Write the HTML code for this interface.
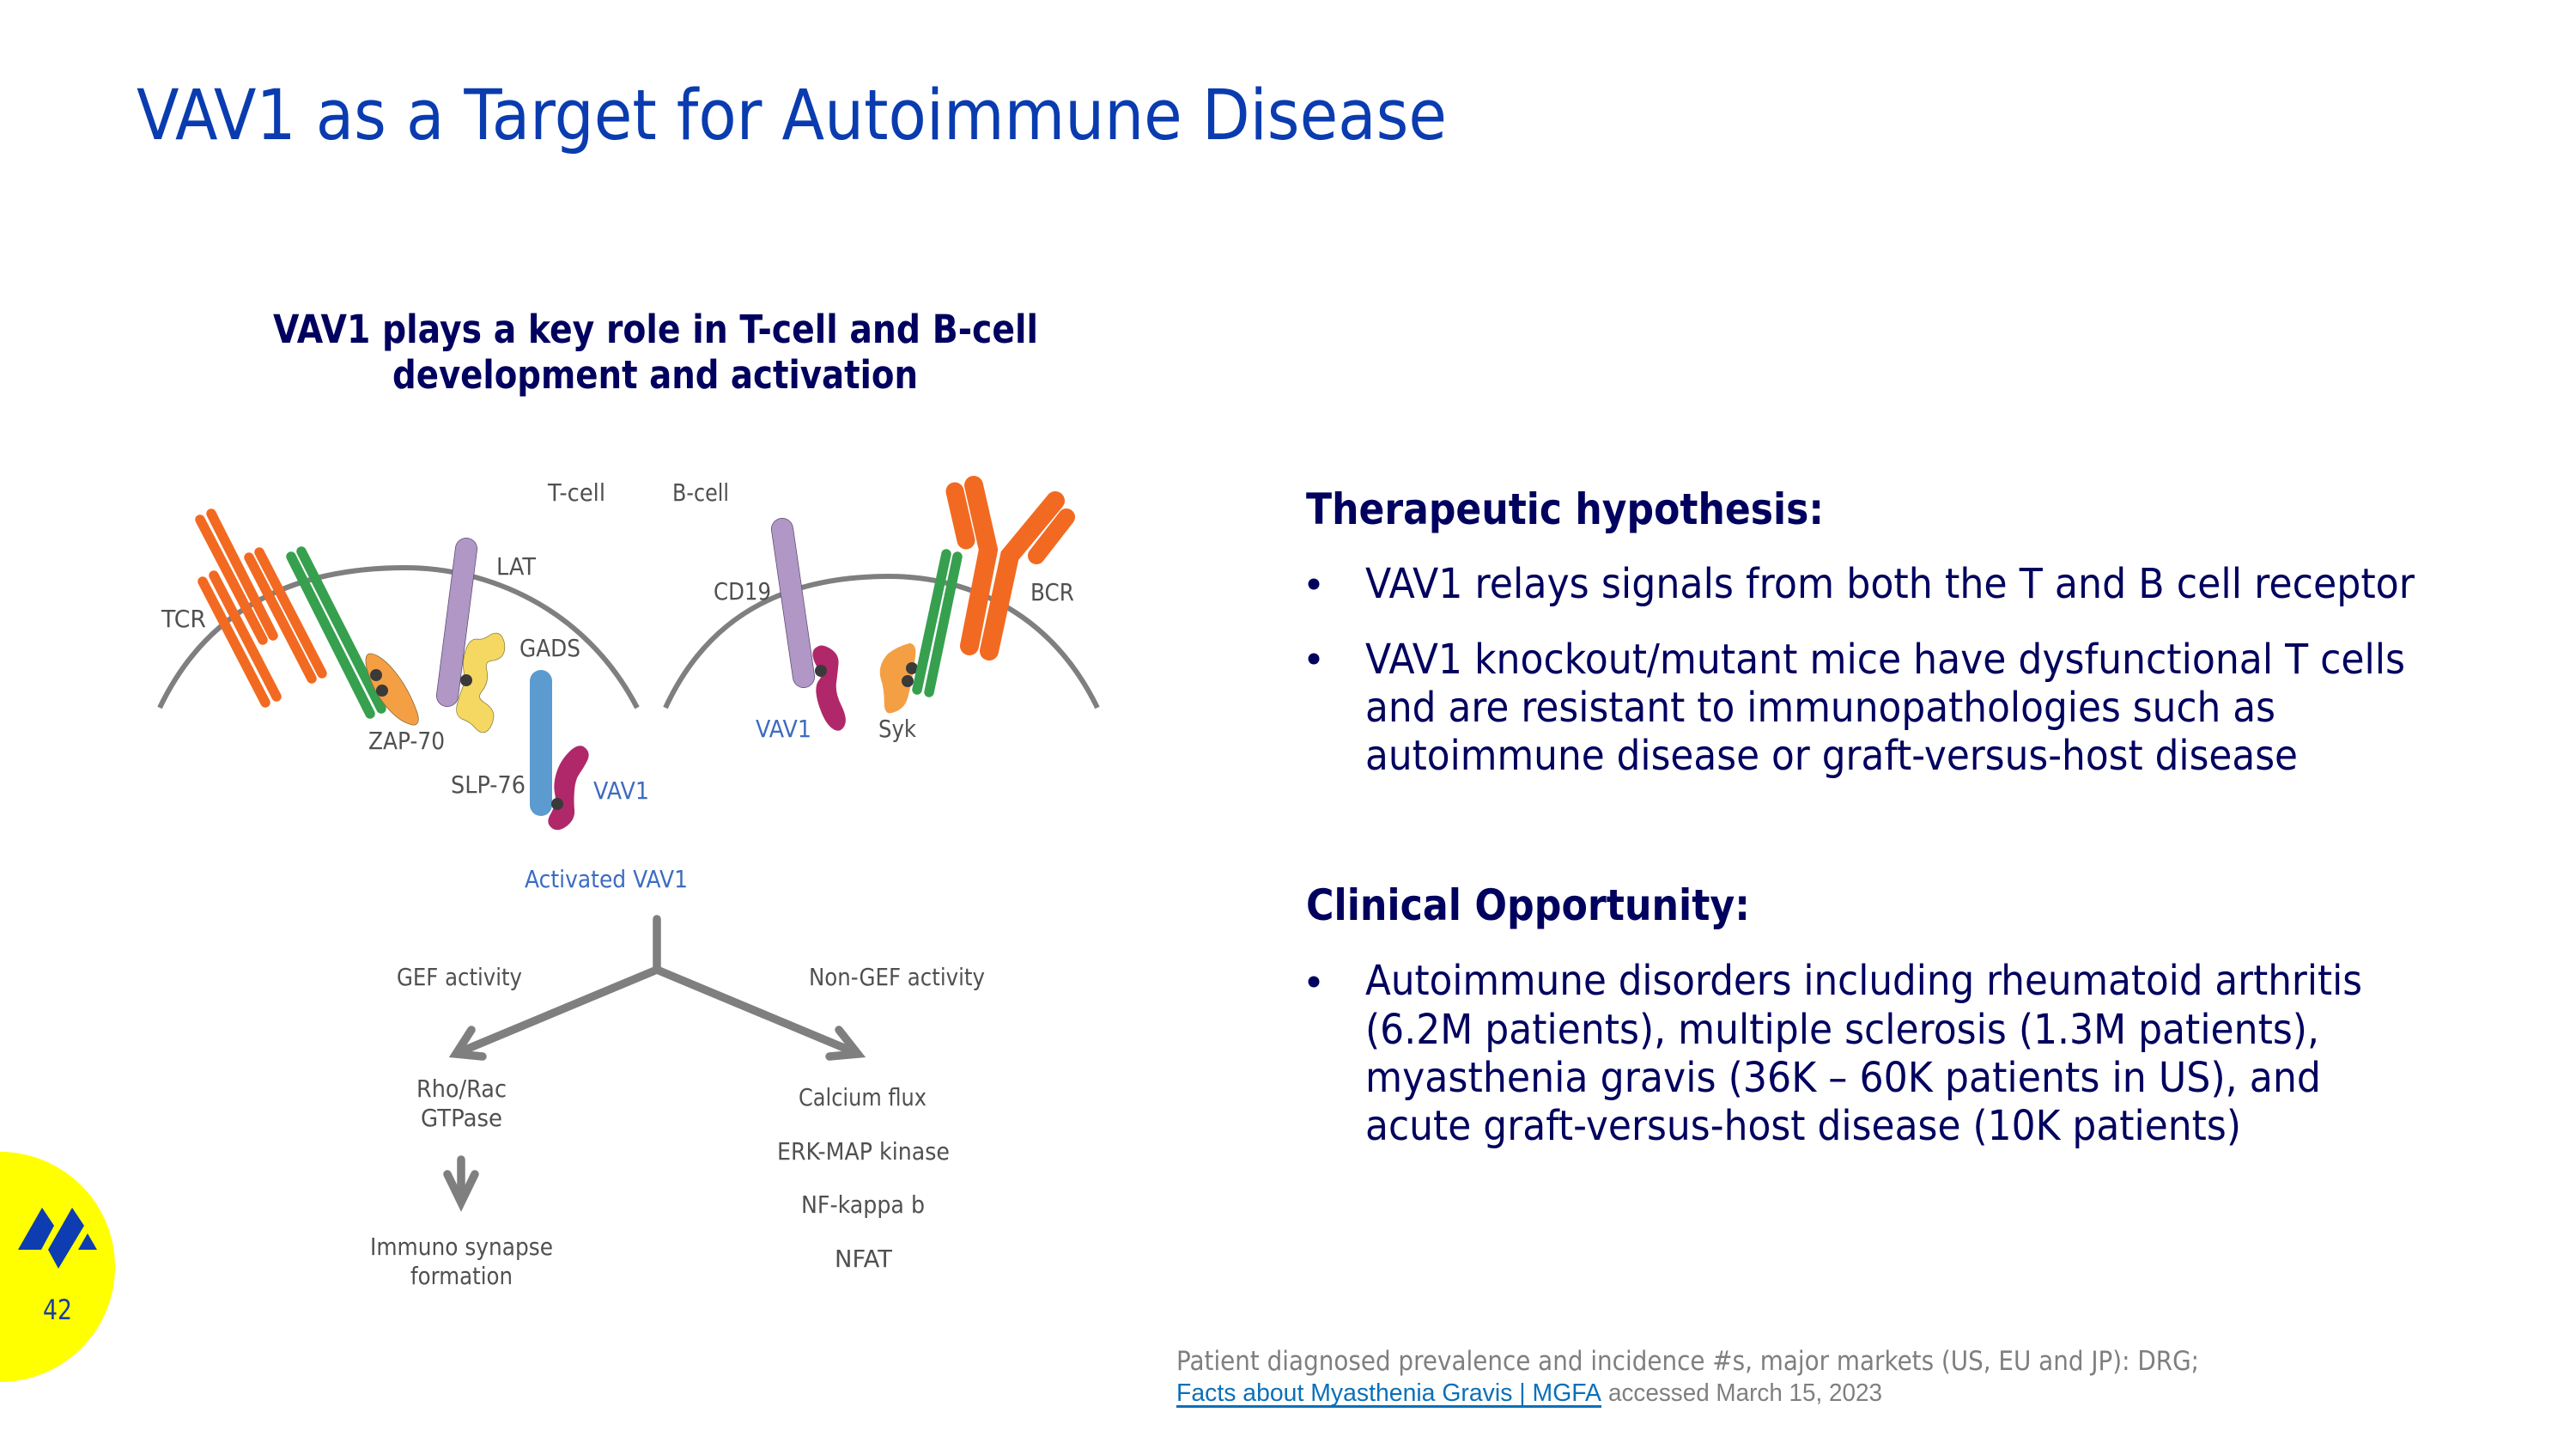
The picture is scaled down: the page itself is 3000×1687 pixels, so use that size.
<!DOCTYPE html>
<html><head><meta charset="utf-8"><style>
html,body{margin:0;padding:0;background:#fff;width:3000px;height:1687px;overflow:hidden}
svg{display:block}
text{font-family:"DejaVu Sans","Liberation Sans",sans-serif}
.l{font-size:28px;fill:#505050}
.b{font-size:28px;fill:#3d6cc0}
.h{font-size:48px;fill:#00005f}
.hb{font-size:50px;font-weight:bold;fill:#00005f}
.sh{font-size:45px;font-weight:bold;fill:#00005f}
.f{font-size:31px;fill:#7f7f7f}
.bar{fill:none;stroke-linecap:round}
</style></head><body>
<svg xmlns="http://www.w3.org/2000/svg" width="3000" height="1687" viewBox="0 0 3000 1687">
<rect width="3000" height="1687" fill="#fff"/>
<text x="159" y="162" font-size="81" fill="#0a3cb0" textLength="1526" lengthAdjust="spacingAndGlyphs">VAV1 as a Target for Autoimmune Disease</text>
<text class="sh" x="318" y="399" textLength="891" lengthAdjust="spacingAndGlyphs">VAV1 plays a key role in T-cell and B-cell</text>
<text class="sh" x="457" y="452" textLength="612" lengthAdjust="spacingAndGlyphs">development and activation</text>

<!-- T cell -->
<path d="M186 824C250 690 370 661 472 661C565 661 680 705 742 824" fill="none" stroke="#7f7f7f" stroke-width="6"/>
<g class="bar" stroke="#f26a21" stroke-width="11.5">
<line x1="233" y1="605" x2="306" y2="745"/><line x1="246" y1="598" x2="318" y2="740"/>
<line x1="236" y1="677" x2="309" y2="818"/><line x1="249" y1="670" x2="322" y2="811"/>
<line x1="290" y1="649" x2="363" y2="790"/><line x1="302" y1="643" x2="375" y2="784"/>
</g>
<g class="bar" stroke="#36a04f" stroke-width="11.5">
<line x1="339" y1="648" x2="431" y2="831"/><line x1="351" y1="642" x2="444" y2="825"/>
</g>
<path d="M430 761C445 760 472 790 486 830C490 843 484 846 477 843C460 838 440 815 431 790C425 775 424 763 430 761Z" fill="#f59f45" stroke="#8a6a3a" stroke-width=".8"/>
<circle cx="438" cy="786" r="7" fill="#3a3a3a"/><circle cx="445" cy="804" r="7" fill="#3a3a3a"/>
<line x1="543" y1="639" x2="521" y2="810" stroke="#5a4a70" stroke-width="26" stroke-linecap="round"/>
<line x1="543" y1="639" x2="521" y2="810" stroke="#b097c6" stroke-width="24.5" stroke-linecap="round"/>
<path d="M571 742.5Q579 737 582.5 743.5Q586 750 584.5 757.5Q583 765 572 766.5Q561 768 564 780.5Q567 793 559 803Q551 813 562 820Q573 827 572 835Q571 843 566.5 848Q562 853 555.5 845.5Q549 838 540.5 835Q532 832 535.5 819.5Q539 807 542 800Q545 793 543 781.5Q541 770 545 758Q549 746 556 747Q563 748 571 742.5Z" fill="none" stroke="#8a7a3a" stroke-width="6.5" stroke-linejoin="round"/>
<path d="M571 742.5Q579 737 582.5 743.5Q586 750 584.5 757.5Q583 765 572 766.5Q561 768 564 780.5Q567 793 559 803Q551 813 562 820Q573 827 572 835Q571 843 566.5 848Q562 853 555.5 845.5Q549 838 540.5 835Q532 832 535.5 819.5Q539 807 542 800Q545 793 543 781.5Q541 770 545 758Q549 746 556 747Q563 748 571 742.5Z" fill="#f4d862" stroke="#f4d862" stroke-width="5" stroke-linejoin="round"/>
<circle cx="543" cy="792" r="7" fill="#3a3a3a"/>
<rect x="617" y="780" width="26" height="170" rx="13" fill="#5b9bd0"/>
<path d="M664 877Q674 867 680 872Q686 877 682 885Q678 893 673 900Q668 907 667 920Q666 933 667 943Q668 953 659 960Q650 967 644 962.5Q638 958 642 950.5Q646 943 648 938Q650 933 648 923Q646 913 650 900Q654 887 664 877Z" fill="#b0286a" stroke="#b0286a" stroke-width="4" stroke-linejoin="round"/>
<circle cx="649" cy="936" r="7" fill="#3a3a3a"/>

<!-- B cell -->
<path d="M775 824C830 705 930 671 1035 671C1130 671 1225 715 1278 824" fill="none" stroke="#7f7f7f" stroke-width="6"/>
<line x1="911" y1="616" x2="936" y2="788" stroke="#5a4a70" stroke-width="26" stroke-linecap="round"/>
<line x1="911" y1="616" x2="936" y2="788" stroke="#b097c6" stroke-width="24.5" stroke-linecap="round"/>
<path d="M953 754Q958 751 967 757Q976 763 975 773Q974 783 972.5 795Q971 807 978.5 822Q986 837 982 844.5Q978 852 971 847.5Q964 843 958.5 830Q953 817 952 807Q951 797 955.5 792Q960 787 954.5 778.5Q949 770 948 763.5Q947 757 953 754Z" fill="#b0286a" stroke="#b0286a" stroke-width="3" stroke-linejoin="round"/>
<circle cx="956" cy="781" r="7" fill="#3a3a3a"/>
<path d="M1060 750Q1066 752 1065 762Q1062 790 1056 812Q1052 826 1037 829Q1031 830 1031 818Q1031 802 1027 790Q1023 775 1035 762Q1045 754 1060 750Z" fill="#f59f45" stroke="#f59f45" stroke-width="2.5" stroke-linejoin="round"/>
<circle cx="1062" cy="778" r="7" fill="#3a3a3a"/><circle cx="1057" cy="793" r="7" fill="#3a3a3a"/>
<g class="bar" stroke="#36a04f" stroke-width="11.5">
<line x1="1102" y1="645" x2="1068" y2="803"/><line x1="1115" y1="648" x2="1082" y2="806"/>
</g>
<g fill="none" stroke="#f26a21" stroke-linecap="round" stroke-linejoin="miter">
<path d="M1134 565L1151 640L1129 752" stroke-width="22"/>
<path d="M1229 583L1176 647L1152 758" stroke-width="22"/>
<path d="M1112 572L1125 629" stroke-width="21"/>
<path d="M1242 602L1207 647" stroke-width="20"/>
</g>

<!-- arrows -->
<g fill="none" stroke="#7f7f7f" stroke-width="9.5" stroke-linecap="round" stroke-linejoin="miter">
<path d="M765 1070V1129"/>
<path d="M765 1129L535 1225"/>
<path d="M765 1129L995 1225"/>
<path d="M549 1199L531 1227L562 1230"/>
<path d="M977 1199L999 1227L966 1230"/>
<path d="M537 1350V1397"/>
<path d="M521 1367L537 1400L553 1367"/>
</g>

<!-- labels -->
<text class="l" x="638" y="583" textLength="67" lengthAdjust="spacingAndGlyphs">T-cell</text>
<text class="l" x="783" y="583" textLength="66" lengthAdjust="spacingAndGlyphs">B-cell</text>
<text class="l" x="578" y="669" textLength="46" lengthAdjust="spacingAndGlyphs">LAT</text>
<text class="l" x="188" y="730" textLength="52" lengthAdjust="spacingAndGlyphs">TCR</text>
<text class="l" x="605" y="764" textLength="71" lengthAdjust="spacingAndGlyphs">GADS</text>
<text class="l" x="429" y="872" textLength="89" lengthAdjust="spacingAndGlyphs">ZAP-70</text>
<text class="l" x="525" y="923" textLength="87" lengthAdjust="spacingAndGlyphs">SLP-76</text>
<text class="b" x="691" y="930" textLength="65" lengthAdjust="spacingAndGlyphs">VAV1</text>
<text class="l" x="831" y="698" textLength="67" lengthAdjust="spacingAndGlyphs">CD19</text>
<text class="l" x="1200" y="699" textLength="51" lengthAdjust="spacingAndGlyphs">BCR</text>
<text class="b" x="880" y="858" textLength="65" lengthAdjust="spacingAndGlyphs">VAV1</text>
<text class="l" x="1023" y="858" textLength="44" lengthAdjust="spacingAndGlyphs">Syk</text>
<text class="b" x="611" y="1033" textLength="190" lengthAdjust="spacingAndGlyphs">Activated VAV1</text>
<text class="l" x="462" y="1147" textLength="146" lengthAdjust="spacingAndGlyphs">GEF activity</text>
<text class="l" x="942" y="1147" textLength="205" lengthAdjust="spacingAndGlyphs">Non-GEF activity</text>
<text class="l" x="485" y="1277" textLength="105" lengthAdjust="spacingAndGlyphs">Rho/Rac</text>
<text class="l" x="490" y="1311" textLength="95" lengthAdjust="spacingAndGlyphs">GTPase</text>
<text class="l" x="930" y="1287" textLength="149" lengthAdjust="spacingAndGlyphs">Calcium flux</text>
<text class="l" x="905" y="1350" textLength="201" lengthAdjust="spacingAndGlyphs">ERK-MAP kinase</text>
<text class="l" x="933" y="1412" textLength="144" lengthAdjust="spacingAndGlyphs">NF-kappa b</text>
<text class="l" x="972" y="1475" textLength="67" lengthAdjust="spacingAndGlyphs">NFAT</text>
<text class="l" x="431" y="1461" textLength="213" lengthAdjust="spacingAndGlyphs">Immuno synapse</text>
<text class="l" x="478" y="1495" textLength="119" lengthAdjust="spacingAndGlyphs">formation</text>

<!-- right column -->
<text class="hb" x="1521" y="610" textLength="603" lengthAdjust="spacingAndGlyphs">Therapeutic hypothesis:</text>
<circle cx="1530" cy="680" r="6.5" fill="#00005f"/>
<text class="h" x="1590" y="696" textLength="1222" lengthAdjust="spacingAndGlyphs">VAV1 relays signals from both the T and B cell receptor</text>
<circle cx="1530" cy="767" r="6.5" fill="#00005f"/>
<text class="h" x="1590" y="784" textLength="1211" lengthAdjust="spacingAndGlyphs">VAV1 knockout/mutant mice have dysfunctional T cells</text>
<text class="h" x="1590" y="840" textLength="1060" lengthAdjust="spacingAndGlyphs">and are resistant to immunopathologies such as</text>
<text class="h" x="1590" y="896" textLength="1086" lengthAdjust="spacingAndGlyphs">autoimmune disease or graft-versus-host disease</text>
<text class="hb" x="1521" y="1071" textLength="517" lengthAdjust="spacingAndGlyphs">Clinical Opportunity:</text>
<circle cx="1530" cy="1143" r="6.5" fill="#00005f"/>
<text class="h" x="1590" y="1158" textLength="1161" lengthAdjust="spacingAndGlyphs">Autoimmune disorders including rheumatoid arthritis</text>
<text class="h" x="1590" y="1215" textLength="1111" lengthAdjust="spacingAndGlyphs">(6.2M patients), multiple sclerosis (1.3M patients),</text>
<text class="h" x="1590" y="1271" textLength="1113" lengthAdjust="spacingAndGlyphs">myasthenia gravis (36K – 60K patients in US), and</text>
<text class="h" x="1590" y="1327" textLength="1020" lengthAdjust="spacingAndGlyphs">acute graft-versus-host disease (10K patients)</text>

<!-- footnote -->
<text class="f" x="1370" y="1595" textLength="1191" lengthAdjust="spacingAndGlyphs">Patient diagnosed prevalence and incidence #s, major markets (US, EU and JP): DRG;</text>
<text x="1370" y="1631" style="font-family:'Liberation Sans',sans-serif;font-size:29px;fill:#0a70b8" textLength="495" lengthAdjust="spacingAndGlyphs">Facts about Myasthenia Gravis | MGFA</text>
<rect x="1370" y="1636" width="495" height="3" fill="#0a70b8"/>
<text x="1873" y="1631" style="font-family:'Liberation Sans',sans-serif;font-size:29px;fill:#7f7f7f" textLength="319" lengthAdjust="spacingAndGlyphs">accessed March 15, 2023</text>

<!-- badge -->
<circle cx="0" cy="1475" r="134" fill="#ffff00"/>
<g fill="#0d3db0">
<polygon points="49,1406 63,1427 48,1455 21,1455"/>
<polygon points="84,1406 98,1427 68,1477 56,1455"/>
<polygon points="102,1436 113,1455 91,1455"/>
</g>
<text x="50" y="1536" font-size="32" fill="#1a3fa0" textLength="34" lengthAdjust="spacingAndGlyphs">42</text>
</svg>
</body></html>
